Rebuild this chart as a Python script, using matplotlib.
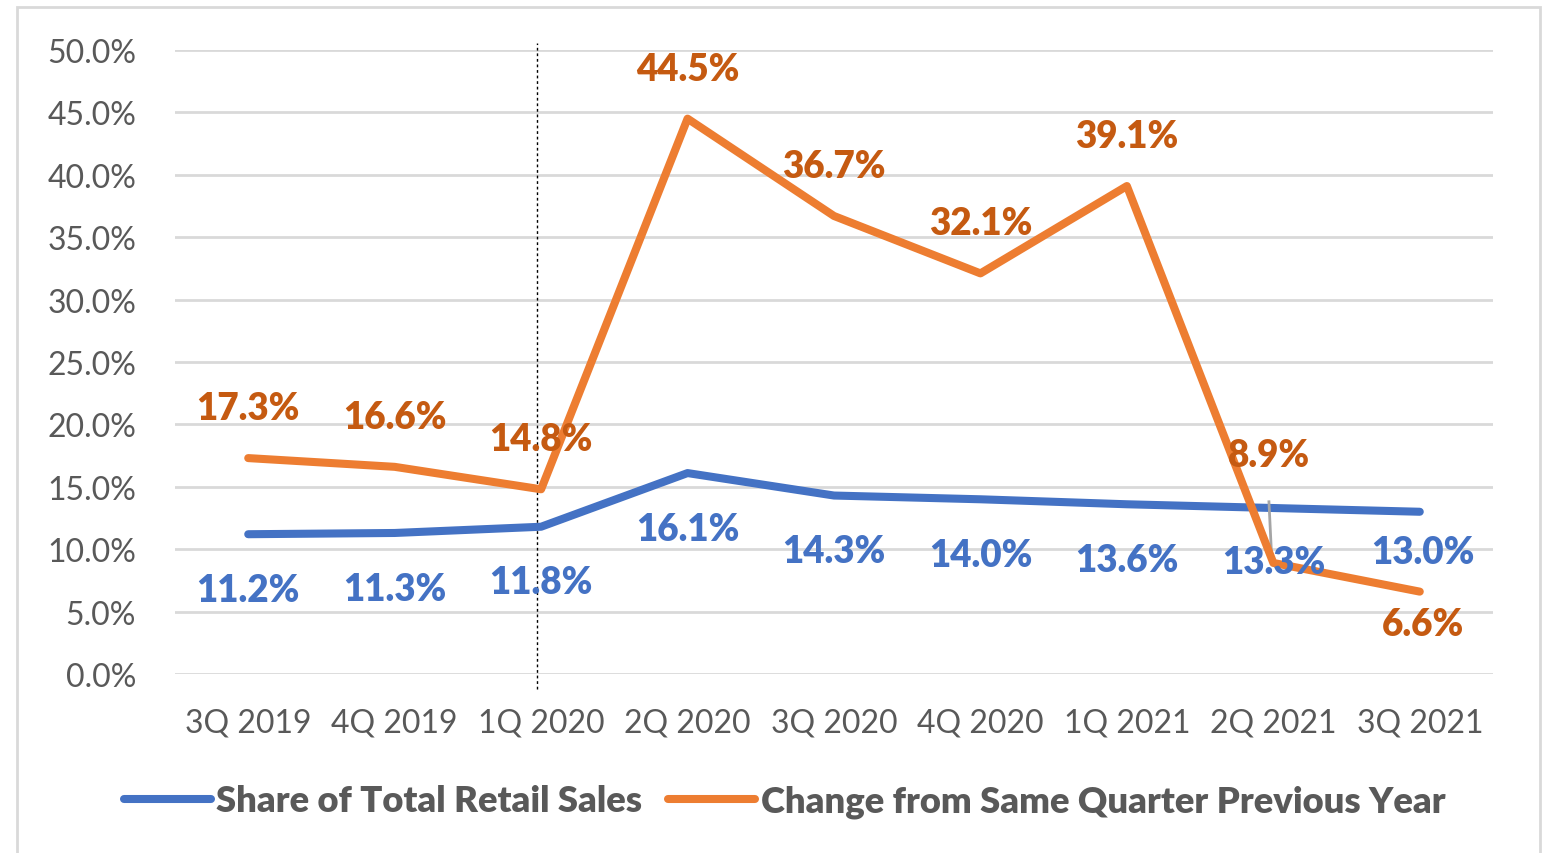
import matplotlib.pyplot as plt
from matplotlib.patches import Rectangle
import numpy as np

quarters = ["3Q 2019", "4Q 2019", "1Q 2020", "2Q 2020", "3Q 2020",
            "4Q 2020", "1Q 2021", "2Q 2021", "3Q 2021"]
share = [11.2, 11.3, 11.8, 16.1, 14.3, 14.0, 13.6, 13.3, 13.0]
change = [17.3, 16.6, 14.8, 44.5, 36.7, 32.1, 39.1, 8.9, 6.6]
y_ticks = [0, 5, 10, 15, 20, 25, 30, 35, 40, 45, 50]

BLUE = "#4472C4"
ORANGE = "#ED7D31"
ORANGE_TXT = "#C55A11"
GRAY_TXT = "#595959"
GRID = "#D9D9D9"

plt.rcParams["font.family"] = ["Lato", "DejaVu Sans"]

fig = plt.figure(figsize=(15.43, 8.54), dpi=100)
ax = fig.add_axes([175 / 1543, 1 - 675 / 854, (1493 - 175) / 1543, (675 - 51) / 854])

x = np.arange(len(quarters))
ax.plot(x, share, color=BLUE, lw=5.8, solid_capstyle="round", zorder=3,
        label="Share of Total Retail Sales")
ax.plot(x, change, color=ORANGE, lw=5.8, solid_capstyle="round", zorder=4,
        label="Change from Same Quarter Previous Year")

ax.set_xlim(-0.5, len(quarters) - 0.5)
ax.set_ylim(0, 50)
ax.set_yticks(y_ticks)
ax.set_yticklabels([f"{v:.1f}%" for v in y_ticks])
ax.set_xticks(x)
ax.set_xticklabels(quarters)
ax.tick_params(axis="both", length=0, labelsize=23, labelcolor=GRAY_TXT)
ax.tick_params(axis="y", pad=28)
ax.tick_params(axis="x", pad=24)
ax.grid(axis="y", color=GRID, lw=2)
ax.set_axisbelow(True)
for s in ax.spines.values():
    s.set_visible(False)

# vertical marker at 1Q 2020
ax.plot([1.97, 1.97], [-1.2, 50.6], color="black", lw=1, ls=(0, (2, 2)),
        clip_on=False, zorder=2)

# leader line at 2Q 2021
ax.plot([6.97, 6.99], [13.8, 9.0], color="#A5A5A5", lw=2, zorder=3.5)

# data labels (offsets in points)
ch_off = [(0, 36)] * 7 + [(-3, 78), (2, -23)]
sh_off = [(0, -40)] * 7 + [(0, -39), (2, -29)]
for i, (v, o) in enumerate(zip(change, ch_off)):
    ax.annotate(f"{v:.1f}%", (i, v), xytext=o, textcoords="offset points",
                ha="center", va="center", fontsize=26.5, fontweight="heavy",
                color=ORANGE_TXT, zorder=5)
for i, (v, o) in enumerate(zip(share, sh_off)):
    ax.annotate(f"{v:.1f}%", (i, v), xytext=o, textcoords="offset points",
                ha="center", va="center", fontsize=26.5, fontweight="heavy",
                color=BLUE, zorder=5)

leg = fig.legend(loc="center", bbox_to_anchor=(784.5 / 1543, 1 - 802 / 854),
                 ncol=2, frameon=False, fontsize=26.2, handlelength=2.4,
                 handletextpad=0.15, columnspacing=0.7)
for t in leg.get_texts():
    t.set_color(GRAY_TXT)
    t.set_fontweight("heavy")

fig.patches.append(Rectangle((17 / 1543, -0.05), (1540 - 17) / 1543, 1 - 8 / 854 + 0.05,
                             transform=fig.transFigure, fill=False,
                             edgecolor=GRID, lw=2))

fig.savefig("out.png", dpi=100)
